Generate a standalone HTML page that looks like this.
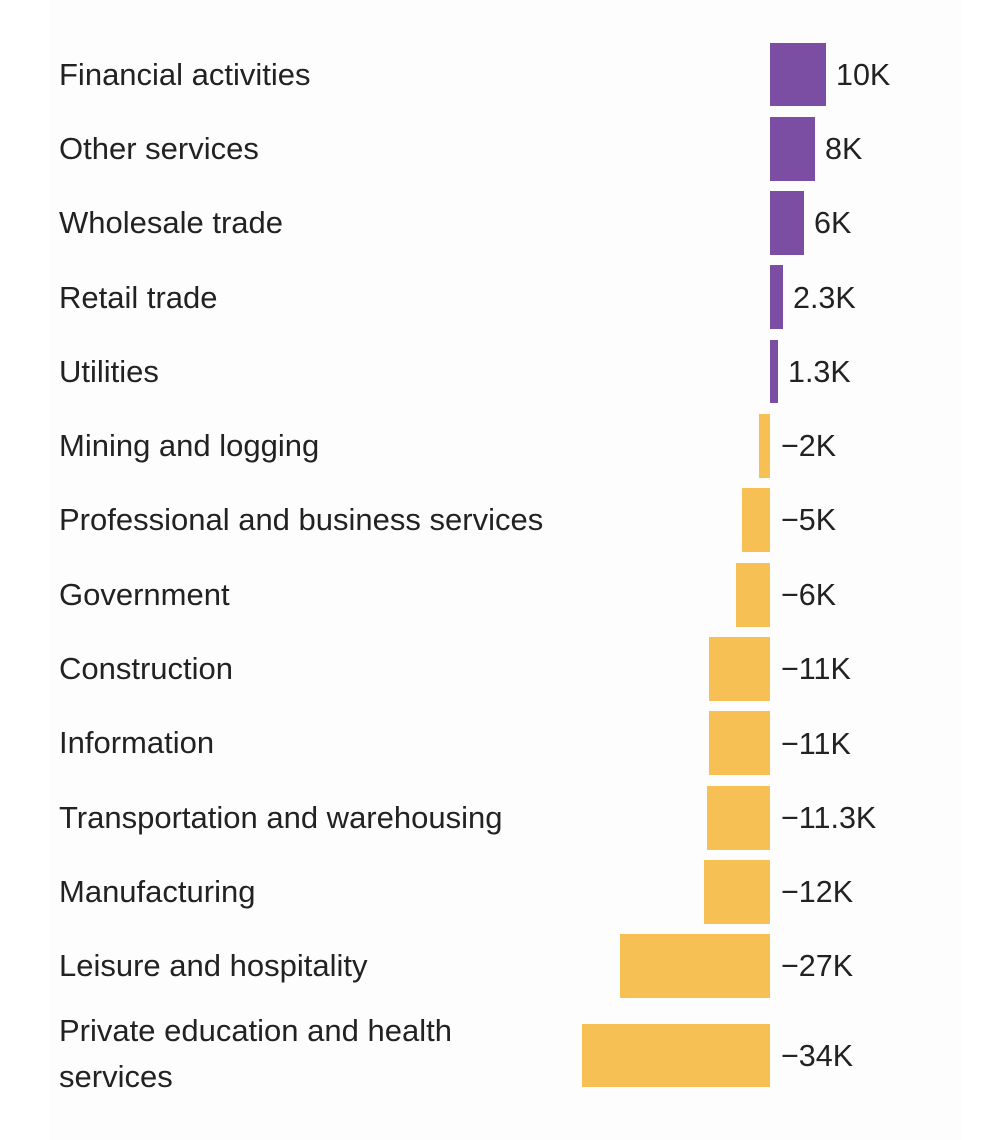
<!DOCTYPE html>
<html><head><meta charset="utf-8"><style>
html,body{margin:0;padding:0;background:#fff;}
#c{position:relative;width:1000px;height:1140px;background:#fff;overflow:hidden;font-family:"Liberation Sans",sans-serif;color:#222;}
#p{position:absolute;left:50px;top:0;width:912px;height:1140px;background:#fdfdfd;}
.l{position:absolute;left:59px;font-size:31px;line-height:46px;white-space:nowrap;}
.v{position:absolute;font-size:30.5px;line-height:34px;white-space:nowrap;}
.b{position:absolute;}
.pu{background:#7b4ea3;}
.ye{background:#f7c055;}
</style></head><body><div id="c"><div id="p"></div>
<div class="b pu" style="left:770px;top:43px;width:56px;height:63px"></div><div class="l" style="top:52px">Financial activities</div><div class="v" style="left:836px;top:58px">10K</div>
<div class="b pu" style="left:770px;top:117px;width:45px;height:64px"></div><div class="l" style="top:126px">Other services</div><div class="v" style="left:825px;top:132px">8K</div>
<div class="b pu" style="left:770px;top:191px;width:34px;height:64px"></div><div class="l" style="top:200px">Wholesale trade</div><div class="v" style="left:814px;top:206px">6K</div>
<div class="b pu" style="left:770px;top:265px;width:13px;height:64px"></div><div class="l" style="top:275px">Retail trade</div><div class="v" style="left:793px;top:281px">2.3K</div>
<div class="b pu" style="left:770px;top:340px;width:8px;height:63px"></div><div class="l" style="top:349px">Utilities</div><div class="v" style="left:788px;top:355px">1.3K</div>
<div class="b ye" style="left:759px;top:414px;width:11px;height:64px"></div><div class="l" style="top:423px">Mining and logging</div><div class="v" style="left:781px;top:429px">−2K</div>
<div class="b ye" style="left:742px;top:488px;width:28px;height:64px"></div><div class="l" style="top:497px">Professional and business services</div><div class="v" style="left:781px;top:503px">−5K</div>
<div class="b ye" style="left:736px;top:563px;width:34px;height:64px"></div><div class="l" style="top:572px">Government</div><div class="v" style="left:781px;top:578px">−6K</div>
<div class="b ye" style="left:709px;top:637px;width:61px;height:64px"></div><div class="l" style="top:646px">Construction</div><div class="v" style="left:781px;top:652px">−11K</div>
<div class="b ye" style="left:709px;top:711px;width:61px;height:64px"></div><div class="l" style="top:720px">Information</div><div class="v" style="left:781px;top:727px">−11K</div>
<div class="b ye" style="left:707px;top:786px;width:63px;height:64px"></div><div class="l" style="top:795px">Transportation and warehousing</div><div class="v" style="left:781px;top:801px">−11.3K</div>
<div class="b ye" style="left:704px;top:860px;width:66px;height:64px"></div><div class="l" style="top:869px">Manufacturing</div><div class="v" style="left:781px;top:875px">−12K</div>
<div class="b ye" style="left:620px;top:934px;width:150px;height:64px"></div><div class="l" style="top:943px">Leisure and hospitality</div><div class="v" style="left:781px;top:949px">−27K</div>
<div class="b ye" style="left:582px;top:1024px;width:188px;height:63px"></div><div class="l" style="top:1008px">Private education and health</div><div class="l" style="top:1054px">services</div><div class="v" style="left:781px;top:1039px">−34K</div>
</div></body></html>
